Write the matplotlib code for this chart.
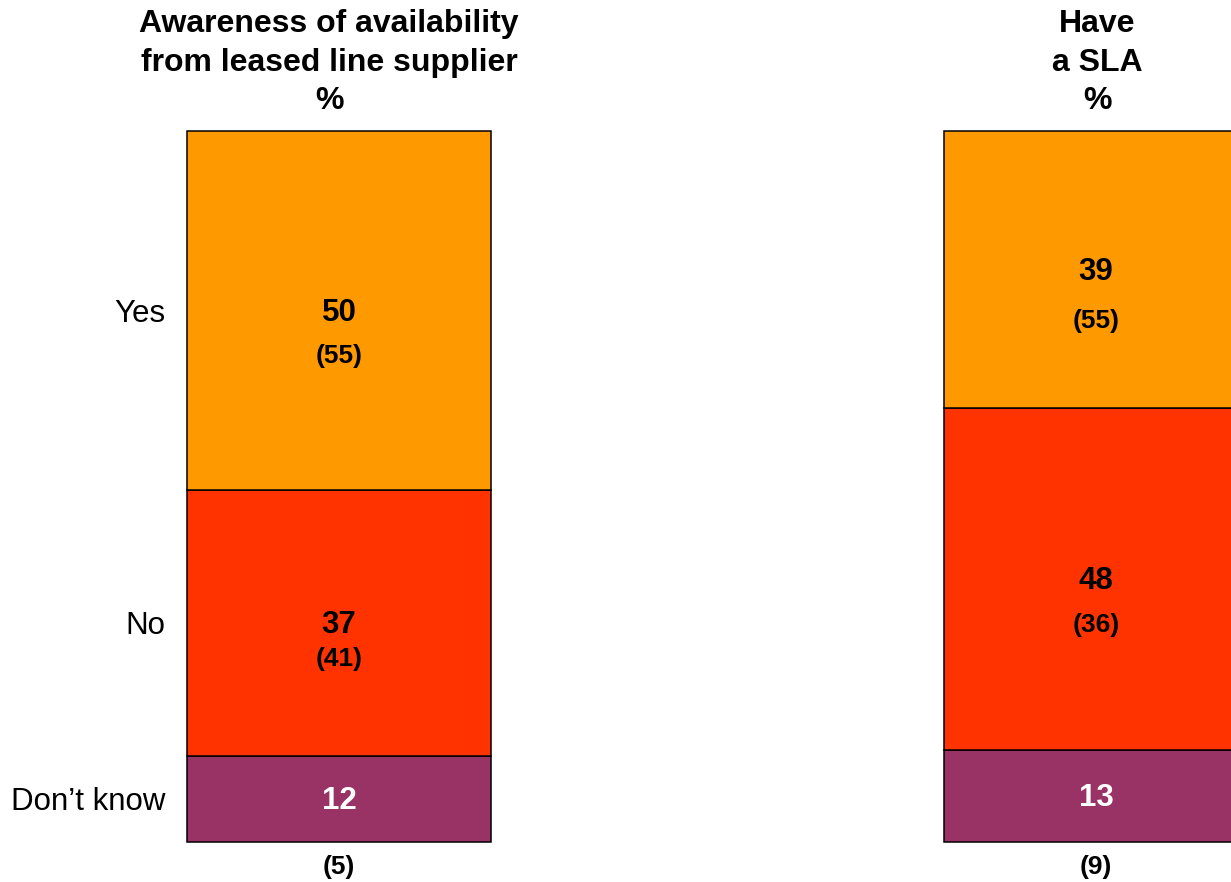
import matplotlib
matplotlib.use("Agg")
import matplotlib.pyplot as plt

plt.rcParams["font.family"] = ["Liberation Sans", "DejaVu Sans"]

# Survey results, one stacked bar per question
groups = ["Awareness of availability\nfrom leased line supplier\n%", "Have\na SLA\n%"]
categories = ["Yes", "No", "Don\u2019t know"]
share_yes = [50, 39]
share_no = [37, 48]
share_dk = [12, 13]
base_yes = [55, 55]
base_no = [41, 36]
base_dk = [5, 9]

colors = {"Yes": "#FF9900", "No": "#FF3300", "Don\u2019t know": "#993366"}

fig = plt.figure(figsize=(12.31, 8.82), dpi=100)
ax = fig.add_axes([0, 0, 1, 1])
ax.set_xlim(-0.4478, 1.1783)
ax.set_ylim(-5.626, 118.42)
ax.axis("off")

positions = [0, 1]
width = 0.4016

# Each bar is scaled to the full 100% column
totals = [y + n + d for y, n, d in zip(share_yes, share_no, share_dk)]
norm = lambda vals: [v / t * 100 for v, t in zip(vals, totals)]
h_dk = norm(share_dk)
h_no = norm(share_no)
h_yes = norm(share_yes)
bottom_no = h_dk
bottom_yes = [a + b for a, b in zip(h_dk, h_no)]

edge = dict(edgecolor="black", linewidth=1.1)
ax.bar(positions, h_dk, width, color=colors["Don\u2019t know"], **edge)
ax.bar(positions, h_no, width, bottom=bottom_no, color=colors["No"], **edge)
ax.bar(positions, h_yes, width, bottom=bottom_yes, color=colors["Yes"], **edge)

big = 22.5
small = 19
yes_off = [33, 37]
no_off = [26, 33]

for i, x in enumerate(positions):
    # Yes
    cy = bottom_yes[i] + h_yes[i] / 2
    ax.annotate(f"{share_yes[i]}", (x, cy), xytext=(0, -1.5),
                textcoords="offset points", ha="center", va="center",
                fontsize=big, fontweight="bold", color="black")
    ax.annotate(f"({base_yes[i]})", (x, cy), xytext=(0, -yes_off[i]),
                textcoords="offset points", ha="center", va="center",
                fontsize=small, fontweight="bold", color="black")
    # No
    cy = bottom_no[i] + h_no[i] / 2
    ax.annotate(f"{share_no[i]}", (x, cy), xytext=(0, -1.5),
                textcoords="offset points", ha="center", va="center",
                fontsize=big, fontweight="bold", color="black")
    ax.annotate(f"({base_no[i]})", (x, cy), xytext=(0, -no_off[i]),
                textcoords="offset points", ha="center", va="center",
                fontsize=small, fontweight="bold", color="black")
    # Don't know
    cy = h_dk[i] / 2
    ax.annotate(f"{share_dk[i]}", (x, cy), xytext=(0, -1.5),
                textcoords="offset points", ha="center", va="center",
                fontsize=big, fontweight="bold", color="white")
    ax.annotate(f"({base_dk[i]})", (x, 0), xytext=(0, -18),
                textcoords="offset points", ha="center", va="center",
                fontsize=small, fontweight="bold", color="black")

# Column headings
title_dx = [-0.0132, 0.0013]
for i, x in enumerate(positions):
    ax.text(x + title_dx[i], 109.6, groups[i], ha="center", va="center",
            multialignment="center", fontsize=23, fontweight="bold",
            linespacing=1.38)

# Row labels beside the first bar
row_centers = [bottom_yes[0] + h_yes[0] / 2, bottom_no[0] + h_no[0] / 2, h_dk[0] / 2]
label_x = positions[0] - width / 2 - 0.029
for label, cy in zip(categories, row_centers):
    ax.annotate(label, (label_x, cy), xytext=(0, -2.5),
                textcoords="offset points", ha="right", va="center",
                fontsize=22.5)

fig.savefig("out.png", dpi=100)
